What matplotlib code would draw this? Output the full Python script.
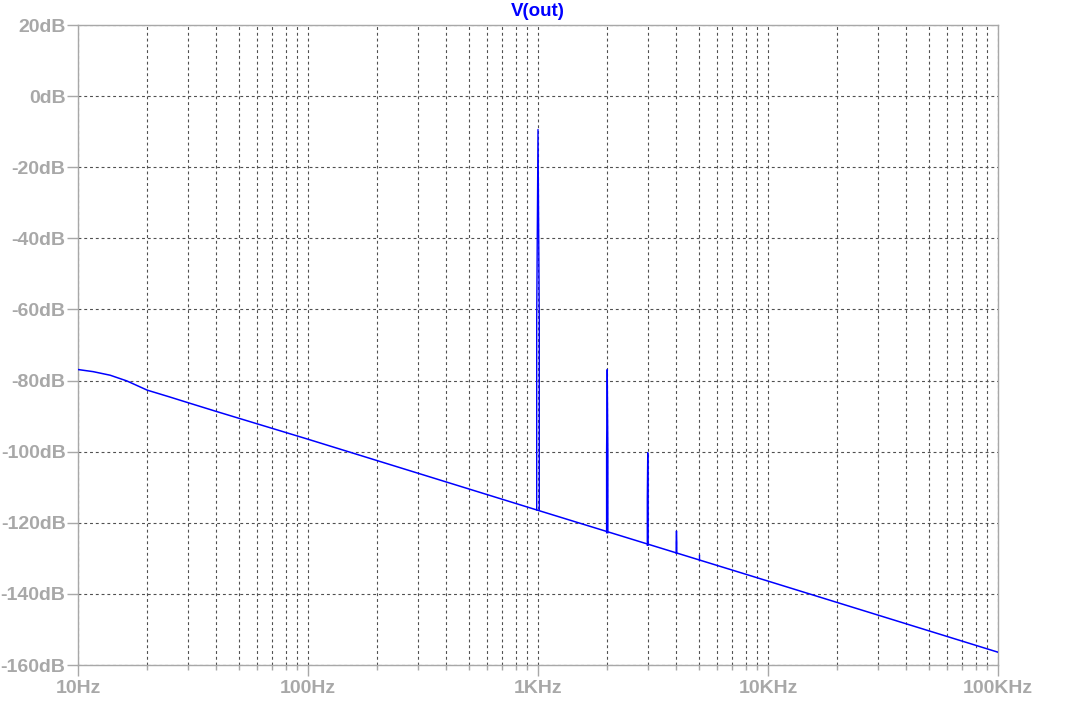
import matplotlib
matplotlib.use("Agg")
import matplotlib.pyplot as plt
from matplotlib.ticker import FixedLocator, LogLocator, NullFormatter
import numpy as np

plt.rcParams['font.family'] = ['Liberation Sans', 'DejaVu Sans']

# ---- data ----
base_freq = [10, 11.65, 13.8, 16.3, 20, 25, 30, 40, 50, 100, 1000, 10000, 100000]
base_db = [-76.9, -77.5, -78.5, -80.1, -82.7, -84.6, -86.2, -88.7, -90.6,
           -96.5, -116.5, -136.4, -156.4]

harm_freq = [1000, 2000, 3000, 4000, 5000]
harm_top_db = [-9.4, -76.9, -100.3, -122.3, -129.1]
harm_side_db = [-63.0, -100.0, -113.4, -125.6, None]
harm_base_db = [-116.4, -122.8, -126.3, -128.6, -130.5]
bin_hz = 13

y_ticks = [20, 0, -20, -40, -60, -80, -100, -120, -140, -160]
y_labels = ['20dB', '0dB', '-20dB', '-40dB', '-60dB', '-80dB', '-100dB',
            '-120dB', '-140dB', '-160dB']
x_ticks = [10, 100, 1000, 10000, 100000]
x_labels = ['10Hz', '100Hz', '1KHz', '10KHz', '100KHz']

trace_color = '#0000ff'
label_color = '#a8a8a8'
grid_color = '#505050'

W, H = 1087, 703
fig = plt.figure(figsize=(W / 100, H / 100), dpi=100)
ax = fig.add_axes([78 / W, 1 - 665 / H, (998 - 78) / W, (665 - 25) / H])

ax.set_xscale('log')
ax.set_xlim(10, 100000)
ax.set_ylim(-160, 20)

# grid
ax.xaxis.set_major_locator(FixedLocator(x_ticks))
ax.xaxis.set_minor_locator(LogLocator(base=10, subs=np.arange(2, 10), numticks=20))
ax.xaxis.set_minor_formatter(NullFormatter())
ax.set_xticklabels(x_labels)
ax.set_yticks(y_ticks)
ax.set_yticklabels(y_labels)

ax.grid(True, which='both', axis='x', color=grid_color, linewidth=0.8,
        linestyle=(0, (2.6, 2.6)))
ax.grid(True, which='major', axis='y', color=grid_color, linewidth=0.8,
        linestyle=(0, (2.6, 2.6)))
ax.set_axisbelow(True)

# baseline trace
ax.plot(base_freq, base_db, color=trace_color, linewidth=1.1, zorder=3)

# harmonic spikes
for f, top, side, base in zip(harm_freq, harm_top_db, harm_side_db, harm_base_db):
    if side is None:
        xs = [f, f]
        ys = [base, top]
    else:
        xs = [f - bin_hz, f - bin_hz, f, f + bin_hz, f + bin_hz]
        ys = [base, side, top, side, base]
    ax.plot(xs, ys, color=trace_color, linewidth=1.0, zorder=3)

for s in ax.spines.values():
    s.set_color(label_color)
    s.set_linewidth(1.0)

ax.tick_params(axis='both', which='major', length=8, width=1.0, color=label_color,
               labelcolor=label_color, labelsize=14, pad=1)
ax.tick_params(axis='x', which='major', pad=3)
ax.tick_params(axis='x', which='minor', length=3.8, width=1.0, color=label_color)
for lab in ax.get_xticklabels() + ax.get_yticklabels():
    lab.set_fontweight('bold')

fig.text(538 / W, 1 - 12 / H, 'V(out)', color=trace_color, fontsize=13.5,
         fontweight='bold', ha='center', va='center')

fig.savefig('out.png', dpi=100)
